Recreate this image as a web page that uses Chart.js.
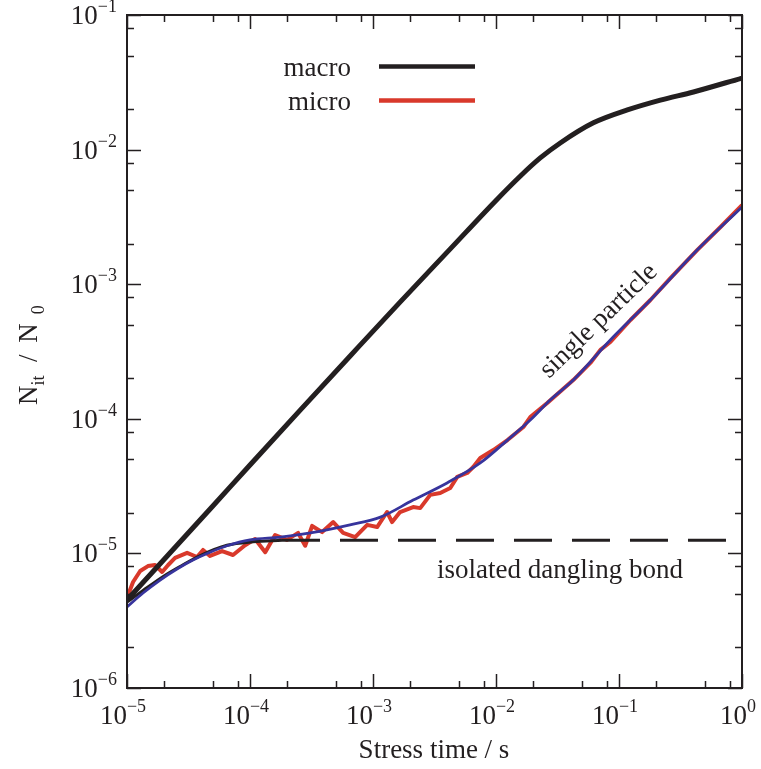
<!DOCTYPE html>
<html>
<head>
<meta charset="utf-8">
<script src="https://cdn.jsdelivr.net/npm/chart.js@4.4.0/dist/chart.umd.min.js"></script>
<style>
  html, body { margin: 0; padding: 0; background: #fff; }
  #wrap { width: 761px; height: 769px; }
</style>
</head>
<body>
<div id="wrap"><canvas id="chart" width="761" height="769"></canvas></div>
<script>
// macro model (thick black)
const macroT = [1e-5, 2e-5, 5.01e-5, 1e-4, 2.56e-4, 6.52e-4, 1.66e-3,
                4.25e-3, 9.87e-3, 1.58e-2, 2.29e-2, 3.33e-2, 6.19e-2, 0.117, 0.217, 0.403, 1];
const macroN = [4.51e-6, 9.0e-6, 2.26e-5, 4.54e-5, 1.16e-4, 2.93e-4, 7.36e-4,
                1.83e-3, 4.14e-3, 6.37e-3, 8.67e-3, 1.12e-2, 1.58e-2, 1.97e-2, 2.33e-2, 2.68e-2, 3.4e-2];

// micro simulation (noisy red)
const microT = [1e-5, 1.12e-5, 1.28e-5, 1.48e-5, 1.69e-5, 1.93e-5, 2.16e-5, 2.46e-5, 3.08e-5, 3.71e-5,
                4.15e-5, 4.73e-5, 5.93e-5, 7.28e-5, 9.12e-5, 1.1e-4, 1.33e-4, 1.6e-4, 2e-4, 2.46e-4,
                2.81e-4, 3.2e-4, 3.86e-4, 4.75e-4, 5.72e-4, 7.16e-4, 8.97e-4, 1.08e-3, 1.3e-3, 1.43e-3,
                1.66e-3, 2.12e-3, 2.42e-3, 2.92e-3, 3.52e-3, 4.25e-3, 4.84e-3, 5.83e-3, 6.53e-3, 7.45e-3,
                9.51e-3, 1.24e-2, 1.67e-2, 1.9e-2, 2.61e-2, 4.25e-2, 5.85e-2, 7.06e-2, 8.51e-2, 0.124,
                0.18, 0.262, 0.434, 0.669, 1];
const microN = [4.67e-6, 6.13e-6, 7.4e-6, 8.05e-6, 8.2e-6, 7.28e-6, 8.2e-6, 9.25e-6, 1.01e-5, 9.4e-6,
                1.06e-5, 9.57e-6, 1.04e-5, 9.73e-6, 1.15e-5, 1.28e-5, 1.02e-5, 1.37e-5, 1.26e-5, 1.42e-5,
                1.14e-5, 1.6e-5, 1.44e-5, 1.71e-5, 1.42e-5, 1.32e-5, 1.63e-5, 1.57e-5, 2.03e-5, 1.71e-5,
                2.03e-5, 2.21e-5, 2.17e-5, 2.72e-5, 2.81e-5, 3.06e-5, 3.7e-5, 3.96e-5, 4.38e-5, 5.12e-5,
                5.86e-5, 6.95e-5, 8.69e-5, 1.03e-4, 1.31e-4, 1.94e-4, 2.6e-4, 3.25e-4, 3.72e-4, 5.42e-4,
                7.63e-4, 1.11e-3, 1.8e-3, 2.66e-3, 3.87e-3];

// single particle (blue)
const singleT = [1e-5, 1.35e-5, 1.86e-5, 2.55e-5, 3.44e-5, 4.73e-5, 6.5e-5, 1e-4, 1.76e-4, 3.1e-4,
                 6.5e-4, 1.15e-3, 2.12e-3, 4e-3, 7.45e-3, 1.24e-2, 1.9e-2, 2.76e-2, 4.25e-2, 8.5e-2,
                 0.18, 0.434, 1];
const singleN = [4e-6, 5.08e-6, 6.34e-6, 7.66e-6, 8.93e-6, 1.02e-5, 1.14e-5, 1.26e-5, 1.32e-5, 1.42e-5,
                 1.63e-5, 1.86e-5, 2.49e-5, 3.34e-5, 4.7e-5, 6.95e-5, 9.8e-5, 1.38e-4, 1.94e-4, 3.85e-4,
                 7.63e-4, 1.8e-3, 3.75e-3];

// isolated dangling bond (thin black, then dashed plateau)
const bondT = [1e-5, 1.35e-5, 2e-5, 2.7e-5, 3.9e-5, 6.5e-5, 1.06e-4, 1.82e-4];
const bondN = [4.35e-6, 5.3e-6, 6.8e-6, 8e-6, 9.6e-6, 1.15e-5, 1.22e-5, 1.25e-5];
const plateauT = [1.82e-4, 1];
const plateauN = [1.25e-5, 1.25e-5];

// axes
const xExps = [-5, -4, -3, -2, -1, 0];
const yExps = [-6, -5, -4, -3, -2, -1];
const minorMult = [2, 5, 8];

const FONT = '"Liberation Serif", "Times New Roman", serif';
const INK = '#231f20';
const RED = '#d9392b';
const BLUE = '#37349c';

const pts = (xs, ys) => xs.map((x, i) => ({x, y: ys[i]}));

function drawPow(ctx, exp, x, y, align) {
    const base = '10';
    const sup = (exp < 0 ? '\u2212' : '') + Math.abs(exp);
    ctx.font = `27px ${FONT}`;
    const wb = ctx.measureText(base).width;
    ctx.font = `18px ${FONT}`;
    const ws = ctx.measureText(sup).width;
    const x0 = align === 'center' ? x - (wb + ws) / 2 : x - wb - ws;
    ctx.textAlign = 'left';
    ctx.font = `27px ${FONT}`;
    ctx.fillText(base, x0, y);
    ctx.font = `18px ${FONT}`;
    ctx.fillText(sup, x0 + wb, y - 12);
}

const framePlugin = {
    id: 'frame',
    afterDraw(chart) {
        const {ctx, chartArea: {left, right, top, bottom}, scales: {x, y}} = chart;
        ctx.save();
        ctx.strokeStyle = INK;
        ctx.fillStyle = INK;
        ctx.lineWidth = 2;
        ctx.strokeRect(left, top, right - left, bottom - top);

        // inward ticks on all four sides
        ctx.lineWidth = 1.5;
        ctx.beginPath();
        xExps.forEach((e, i) => {
            const vals = [[Math.pow(10, e), 14]];
            if (i < xExps.length - 1) minorMult.forEach(m => vals.push([m * Math.pow(10, e), 7]));
            vals.forEach(([v, len]) => {
                const px = Math.round(x.getPixelForValue(v)) + 0.5;
                ctx.moveTo(px, bottom); ctx.lineTo(px, bottom - len);
                ctx.moveTo(px, top); ctx.lineTo(px, top + len);
            });
        });
        yExps.forEach((e, i) => {
            const vals = [[Math.pow(10, e), 14]];
            if (i < yExps.length - 1) minorMult.forEach(m => vals.push([m * Math.pow(10, e), 7]));
            vals.forEach(([v, len]) => {
                const py = Math.round(y.getPixelForValue(v)) + 0.5;
                ctx.moveTo(left, py); ctx.lineTo(left + len, py);
                ctx.moveTo(right, py); ctx.lineTo(right - len, py);
            });
        });
        ctx.stroke();

        // tick labels
        ctx.textBaseline = 'alphabetic';
        xExps.forEach(e => drawPow(ctx, e, x.getPixelForValue(Math.pow(10, e)) - 4, 724, 'center'));
        yExps.forEach(e => drawPow(ctx, e, 117, y.getPixelForValue(Math.pow(10, e)) + 9, 'right'));

        // axis titles
        ctx.font = `27px ${FONT}`;
        ctx.textAlign = 'center';
        ctx.fillText('Stress time / s', 434, 758);

        ctx.save();
        ctx.translate(37, 405);
        ctx.rotate(-Math.PI / 2);
        ctx.textAlign = 'left';
        let cx = 0;
        const seg = (txt, size, dy) => {
            ctx.font = `${size}px ${FONT}`;
            ctx.fillText(txt, cx, dy);
            cx += ctx.measureText(txt).width;
        };
        seg('N', 27, 0);
        seg('it', 18, 7);
        seg('  / ', 27, 0);
        cx += 5;
        seg('N', 27, 0);
        cx += 9;
        seg('0', 18, 7);
        ctx.restore();

        // legend
        ctx.font = `27px ${FONT}`;
        ctx.textAlign = 'right';
        ctx.fillText('macro', 351, 76);
        ctx.fillText('micro', 351, 110);
        ctx.lineWidth = 4.5;
        ctx.beginPath();
        ctx.strokeStyle = INK;
        ctx.moveTo(379, 66.5); ctx.lineTo(475, 66.5);
        ctx.stroke();
        ctx.beginPath();
        ctx.strokeStyle = RED;
        ctx.moveTo(379, 100.5); ctx.lineTo(475, 100.5);
        ctx.stroke();

        // annotations
        ctx.fillStyle = INK;
        ctx.textAlign = 'left';
        ctx.fillText('isolated dangling bond', 437, 578);
        ctx.save();
        ctx.translate(549, 379);
        ctx.rotate(-44 * Math.PI / 180);
        ctx.fillText('single particle', 0, 0);
        ctx.restore();

        ctx.restore();
    }
};

new Chart(document.getElementById('chart'), {
    type: 'line',
    data: {
        datasets: [
            {label: 'single particle', data: pts(singleT, singleN), borderColor: BLUE, borderWidth: 2.8,
             cubicInterpolationMode: 'monotone'},
            {label: 'isolated dangling bond', data: pts(bondT, bondN), borderColor: INK, borderWidth: 3,
             cubicInterpolationMode: 'monotone'},
            {label: 'plateau', data: pts(plateauT, plateauN), borderColor: INK, borderWidth: 3,
             borderDash: [38, 20]},
            {label: 'macro', data: pts(macroT, macroN), borderColor: INK, borderWidth: 5,
             cubicInterpolationMode: 'monotone'},
            {label: 'micro', data: pts(microT, microN), borderColor: RED, borderWidth: 4, tension: 0},
        ],
    },
    options: {
        responsive: false,
        animation: false,
        events: [],
        layout: {padding: {left: 127, right: 19, top: 15, bottom: 81}},
        elements: {point: {radius: 0}, line: {borderJoinStyle: 'round', borderCapStyle: 'butt'}},
        plugins: {legend: {display: false}, tooltip: {enabled: false}},
        scales: {
            x: {type: 'logarithmic', min: 1e-5, max: 1, display: false},
            y: {type: 'logarithmic', min: 1e-6, max: 1e-1, display: false},
        },
    },
    plugins: [framePlugin],
});
</script>
</body>
</html>
